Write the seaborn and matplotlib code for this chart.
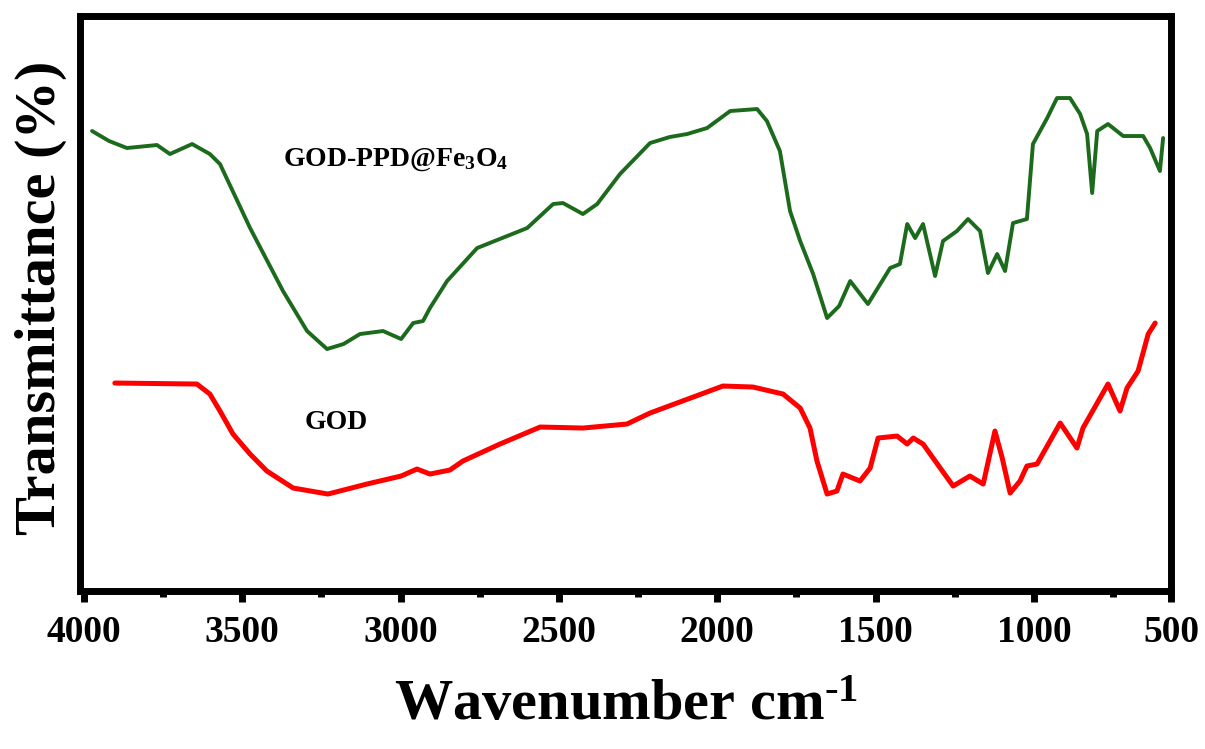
import numpy as np
import pandas as pd
import matplotlib
matplotlib.use("Agg")
import matplotlib.pyplot as plt
import seaborn as sns
from matplotlib.ticker import FixedLocator

# ---------------- data ----------------
# GOD-PPD@Fe3O4 spectrum: wavenumber (cm-1) and transmittance (a.u.)
wn_gpf = [3974, 3920, 3864, 3769, 3728, 3658, 3602, 3570, 3475, 3371, 3295, 3232,
          3180, 3128, 3055, 2998, 2960, 2929, 2907, 2853, 2758, 2600, 2518, 2487,
          2424, 2379, 2307, 2212, 2150, 2095, 2032, 1959, 1874, 1843, 1802, 1770,
          1738, 1697, 1653, 1615, 1580, 1524, 1454, 1423, 1400, 1375, 1350, 1312,
          1287, 1243, 1208, 1170, 1145, 1116, 1091, 1066, 1022, 1003, 958,
          927, 886, 854, 832, 816, 800, 766, 718, 655, 633, 602, 592]
t_gpf = [460, 450, 443, 446, 437, 447, 437, 427, 363, 300, 260, 242,
         247, 257, 260, 252, 268, 270, 283, 310, 343, 363, 387, 388,
         377, 387, 417, 448, 454, 457, 463, 480, 482, 470, 440, 380,
         350, 317, 273, 285, 310, 287, 323, 327, 367, 353, 367, 315,
         350, 360, 372, 360, 318, 337, 320, 368, 372, 447, 473,
         493, 493, 477, 457, 398, 460, 467, 455, 455, 443, 420, 453]

# GOD spectrum
wn_god = [3902, 3643, 3602, 3570, 3529, 3475, 3422, 3339, 3229, 3106, 2998,
          2948, 2907, 2844, 2803, 2686, 2559, 2424, 2285, 2212, 1982, 1887,
          1792, 1738, 1707, 1685, 1653, 1622, 1603, 1549, 1517, 1492, 1432,
          1400, 1381, 1350, 1255, 1202, 1160, 1123, 1100, 1075, 1044, 1022,
          990, 917, 864, 845, 766, 728, 706, 671, 639, 617]
t_god = [208, 207, 197, 180, 157, 137, 120, 103, 97, 107, 115,
         122, 117, 121, 130, 147, 164, 163, 167, 178, 205, 204,
         197, 183, 163, 130, 97, 100, 117, 110, 123, 153, 155,
         147, 153, 147, 105, 115, 107, 160, 133, 98, 110, 125,
         127, 168, 143, 163, 207, 180, 203, 220, 257, 268]

series_names = ["GOD-PPD@Fe$_3$O$_4$", "GOD"]
series_colors = ["#1c6a1c", "#ff0000"]

xtick_labels = ["4000", "3500", "3000", "2500", "2000", "1500", "1000", "500"]
xtick_values = [4000, 3500, 3000, 2500, 2000, 1500, 1000, 500]
minor_values = [3750, 3250, 2750, 2250, 1750, 1250, 750]

# ---------------- style ----------------
sns.set_theme(style="white")
plt.rcParams["font.family"] = ["Liberation Serif", "DejaVu Sans"]
plt.rcParams["font.weight"] = "bold"
plt.rcParams["text.color"] = "black"
plt.rcParams["axes.labelcolor"] = "black"
plt.rcParams["xtick.color"] = "black"
plt.rcParams["ytick.color"] = "black"
plt.rcParams["mathtext.fontset"] = "custom"
plt.rcParams["mathtext.rm"] = "Liberation Serif:bold"
plt.rcParams["mathtext.bf"] = "Liberation Serif:bold"
plt.rcParams["mathtext.it"] = "Liberation Serif:bold"
plt.rcParams["mathtext.default"] = "bf"

fig = plt.figure(figsize=(12.05, 7.49), dpi=100)
ax = fig.add_axes([0.0664, 0.2109, 0.9718 - 0.0664, 0.9786 - 0.2109])

df_gpf = pd.DataFrame({"wn": wn_gpf, "T": t_gpf})
df_god = pd.DataFrame({"wn": wn_god, "T": t_god})

sns.lineplot(data=df_gpf, x="wn", y="T", ax=ax, color=series_colors[0],
             linewidth=2.8, sort=False, estimator=None)
sns.lineplot(data=df_god, x="wn", y="T", ax=ax, color=series_colors[1],
             linewidth=3.6, sort=False, estimator=None)

x_left, x_right = 4012, 567
ax.set_xlim(x_left, x_right)
ax.set_ylim(0, 575)

# major ticks; the last label sits on the right frame edge as in the reference
tick_pos = [max(v, x_right) for v in xtick_values]
ax.set_xticks(tick_pos)
ax.set_xticklabels(xtick_labels)
ax.xaxis.set_minor_locator(FixedLocator(minor_values))
ax.set_yticks([])

ax.tick_params(axis="x", which="major", direction="out", length=8, width=5,
               color="black", labelcolor="black", labelsize=27, pad=9, bottom=True)
ax.tick_params(axis="x", which="minor", direction="out", length=4, width=5,
               color="black", bottom=True)
for lab in ax.get_xticklabels():
    lab.set_fontweight("bold")

for s in ax.spines.values():
    s.set_visible(True)
    s.set_linewidth(5)
    s.set_color("black")

ax.set_xlabel(r"Wavenumber cm$^{\text{-}1}$", fontsize=42, fontweight="bold",
              labelpad=22, color="black")
ax.set_ylabel("Transmittance (%)", fontsize=42, fontweight="bold", color="black")
ax.yaxis.set_label_coords(-0.012, 0.51)

ax.text(3371, 425, series_names[0], fontsize=20, fontweight="bold",
        ha="left", va="baseline", color="black")
ax.text(3302, 162, series_names[1], fontsize=20, fontweight="bold",
        ha="left", va="baseline", color="black")

fig.savefig("out.png", dpi=100, facecolor="white")
